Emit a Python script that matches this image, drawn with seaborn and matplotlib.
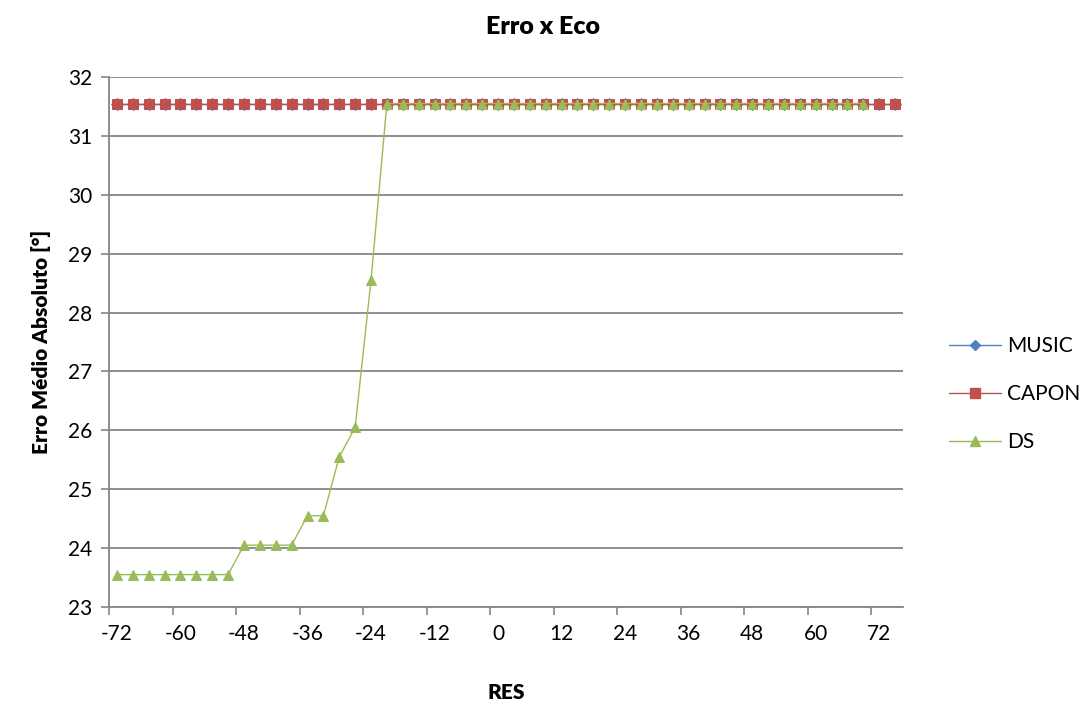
import numpy as np
import pandas as pd
import matplotlib
matplotlib.use("Agg")
import matplotlib.pyplot as plt
import seaborn as sns
from matplotlib.lines import Line2D

# ==============================
# DATA
# ==============================
res = list(range(-72, 76, 3))  # 50 categories, -72 .. 75
music = [31.55] * 50
capon = [31.55] * 50
ds = ([23.55] * 8 + [24.05] * 4 + [24.55, 24.55, 25.55, 26.05, 28.55]
      + [31.55] * 31)  # DS has no value at 75

tick_labels = list(range(-72, 73, 12))

series_names = ["MUSIC", "CAPON", "DS"]
colors = {"MUSIC": "#4F81BD", "CAPON": "#C0504D", "DS": "#9BBB59"}
markers = {"MUSIC": "D", "CAPON": "s", "DS": "^"}
msize = {"MUSIC": 6, "CAPON": 7.5, "DS": 7.5}


def build_frame():
    rows = []
    for name, vals in zip(series_names, [music, capon, ds]):
        for x, v in zip(res, vals):
            rows.append({"RES": x, "erro": v, "serie": name})
    return pd.DataFrame(rows)


def main():
    df = build_frame()

    sns.set_theme(style="white")
    plt.rcParams["font.family"] = ["Lato", "DejaVu Sans"]
    plt.rcParams["text.color"] = "black"
    plt.rcParams["axes.labelcolor"] = "black"
    plt.rcParams["xtick.labelcolor"] = "black"
    plt.rcParams["ytick.labelcolor"] = "black"

    fig = plt.figure(figsize=(10.86, 7.02), dpi=100)
    ax = fig.add_axes([109 / 1086, 1 - 607 / 702, (903 - 109) / 1086, (607 - 77) / 702])

    for name in series_names:
        sub = df[df["serie"] == name]
        sns.lineplot(data=sub, x="RES", y="erro", ax=ax, color=colors[name],
                     marker=markers[name], markersize=msize[name],
                     markeredgecolor=colors[name], linewidth=1.0,
                     legend=False, zorder=3)

    ax.set_xlim(-73.5, 76.5)
    ax.set_ylim(23, 32)

    # tick marks on category boundaries, labels on category centres
    ax.set_xticks(np.arange(-73.5, 71, 12))
    ax.set_xticklabels([])
    ax.set_xticks(tick_labels, minor=True)
    ax.set_xticklabels([str(t) for t in tick_labels], minor=True)
    ax.tick_params(axis="x", which="major", length=6, width=1.2, color="#868686",
                   direction="out", bottom=True)
    ax.tick_params(axis="x", which="minor", length=0, labelsize=15, pad=12)

    ax.set_yticks(range(23, 33))
    ax.tick_params(axis="y", length=6, width=1.2, color="#868686",
                   direction="out", left=True, labelsize=15, pad=6)

    ax.grid(axis="y", color="#868686", linewidth=1.3)
    ax.grid(axis="x", visible=False)
    ax.set_axisbelow(True)
    for side in ["top", "right"]:
        ax.spines[side].set_visible(False)
    for side in ["left", "bottom"]:
        ax.spines[side].set_color("#868686")
        ax.spines[side].set_linewidth(1.3)

    fig.suptitle("Erro x Eco", x=0.5, y=1 - 27 / 702, va="center",
                 fontsize=18, fontweight="heavy")
    ax.set_xlabel("RES", fontsize=15, fontweight="heavy", labelpad=28)
    ax.set_ylabel("Erro Médio Absoluto [°]", fontsize=15, fontweight="heavy", labelpad=12)

    handles = [Line2D([0], [0], color=colors[n], marker=markers[n],
                      markersize=msize[n] - 1, linewidth=1.0) for n in series_names]
    ax.legend(handles, series_names, loc="center left", bbox_to_anchor=(1.047, 0.402),
              bbox_transform=ax.transAxes, borderaxespad=0, frameon=False,
              fontsize=15, handlelength=2.5, labelspacing=1.35, handletextpad=0.3)

    fig.savefig("out.png", dpi=100)


if __name__ == "__main__":
    main()
